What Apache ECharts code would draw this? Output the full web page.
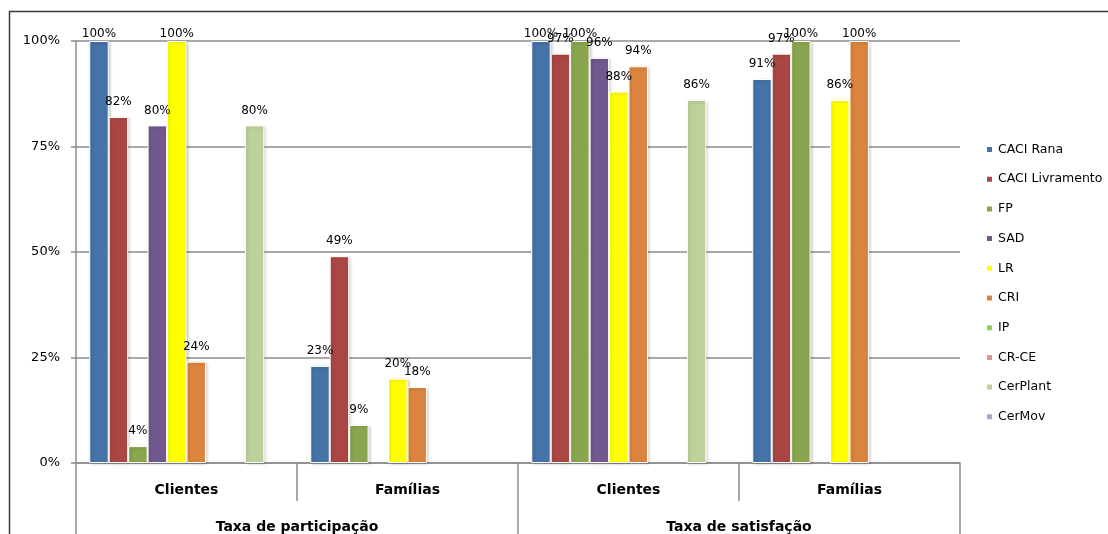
<!DOCTYPE html>
<html>
<head>
<meta charset="utf-8">
<script src="https://cdn.jsdelivr.net/npm/echarts@6/dist/echarts.min.js"></script>
<style>
  html, body { margin: 0; padding: 0; background: #fff; }
  #chart { width: 1108px; height: 534px; }
</style>
</head>
<body>
<div id="chart"></div>
<script>
// Sub-categories (inner axis level) and the two groups (outer axis level)
const subCategories = ['Clientes', 'Famílias', 'Clientes', 'Famílias'];
const groups = ['Taxa de participação', 'Taxa de satisfação'];
const yTicks = [0, 25, 50, 75, 100];

// Values in %, one array per service, ordered as subCategories
const caciRana       = [100, 23, 100, 91];
const caciLivramento = [82, 49, 97, 97];
const fp             = [4, 9, 100, 100];
const sad            = [80, null, 96, null];
const lr             = [100, 20, 88, 86];
const cri            = [24, 18, 94, 100];
const ip             = [null, null, null, null];
const crCe           = [null, null, null, null];
const cerPlant       = [80, null, 86, null];
const cerMov         = [null, null, null, null];

const seriesDefs = [
  { name: 'CACI Rana',       data: caciRana,       color: '#4572A7' },
  { name: 'CACI Livramento', data: caciLivramento, color: '#AA4643' },
  { name: 'FP',              data: fp,             color: '#89A54E' },
  { name: 'SAD',             data: sad,            color: '#71588F' },
  { name: 'LR',              data: lr,             color: '#FFFF00' },
  { name: 'CRI',             data: cri,            color: '#DB843D' },
  { name: 'IP',              data: ip,             color: '#92D050' },
  { name: 'CR-CE',           data: crCe,           color: '#D99694' },
  { name: 'CerPlant',        data: cerPlant,       color: '#BDD19A' },
  { name: 'CerMov',          data: cerMov,         color: '#B3A2C7' }
];

const FONT = 'DejaVu Sans';
const GRID_COLOR = '#8c8c8c';

const chart = echarts.init(document.getElementById('chart'), null, { renderer: 'canvas' });

const series = seriesDefs.map(s => ({
  name: s.name,
  type: 'bar',
  xAxisIndex: 0,
  barGap: '0%',
  barCategoryGap: '12%',
  itemStyle: {
    color: s.color,
    borderColor: '#ffffff',
    borderWidth: 1,
    shadowBlur: 3,
    shadowOffsetX: 1.5,
    shadowOffsetY: 1,
    shadowColor: 'rgba(0,0,0,0.18)'
  },
  label: {
    show: true,
    position: 'top',
    distance: 9,
    fontFamily: FONT,
    fontSize: 12,
    color: '#000',
    formatter: p => (p.value == null ? '' : p.value + '%')
  },
  // labels sitting on the top gridline are kept tight to the bar
  data: s.data.map(v => (v === 100 ? { value: v, label: { distance: 1 } } : v))
}));

const option = {
  backgroundColor: '#ffffff',
  animation: false,
  grid: { left: 76, right: 148, top: 41, bottom: 70, containLabel: false },
  legend: {
    orient: 'vertical',
    left: 980,
    top: 137,
    itemWidth: 7,
    itemHeight: 7,
    itemGap: 14.7,
    icon: 'rect',
    textStyle: { fontFamily: FONT, fontSize: 12.5, color: '#000', lineHeight: 15 },
    data: seriesDefs.map(s => s.name)
  },
  xAxis: [
    {
      type: 'category',
      data: subCategories,
      position: 'bottom',
      axisLine: { show: true, lineStyle: { color: GRID_COLOR, width: 1.5 } },
      axisTick: { show: true, interval: 0, length: 38, lineStyle: { color: GRID_COLOR, width: 1.5 } },
      axisLabel: { interval: 0, margin: 20, fontFamily: FONT, fontSize: 14, fontWeight: 'bold', color: '#000' },
      splitLine: { show: false }
    },
    {
      type: 'category',
      data: groups,
      position: 'bottom',
      axisLine: { show: false },
      axisTick: { show: true, interval: 0, length: 72, lineStyle: { color: GRID_COLOR, width: 1.5 } },
      axisLabel: { interval: 0, margin: 57, fontFamily: FONT, fontSize: 14, fontWeight: 'bold', color: '#000' },
      splitLine: { show: false }
    }
  ],
  yAxis: {
    type: 'value',
    min: yTicks[0],
    max: yTicks[yTicks.length - 1],
    interval: yTicks[1] - yTicks[0],
    axisLine: { show: true, lineStyle: { color: GRID_COLOR, width: 1.5 } },
    axisTick: { show: true, length: 5, lineStyle: { color: GRID_COLOR, width: 1.5 } },
    axisLabel: { margin: 16, fontFamily: FONT, fontSize: 13, color: '#000', formatter: '{value}%' },
    splitLine: { show: true, lineStyle: { color: GRID_COLOR, width: 1.5 } }
  },
  graphic: [
    {
      type: 'rect',
      silent: true,
      z: 100,
      shape: { x: 9.5, y: 11.5, width: 1200, height: 600 },
      style: { fill: 'none', stroke: '#3a3a3a', lineWidth: 1.5 }
    }
  ],
  series: series
};

chart.setOption(option);
</script>
</body>
</html>
